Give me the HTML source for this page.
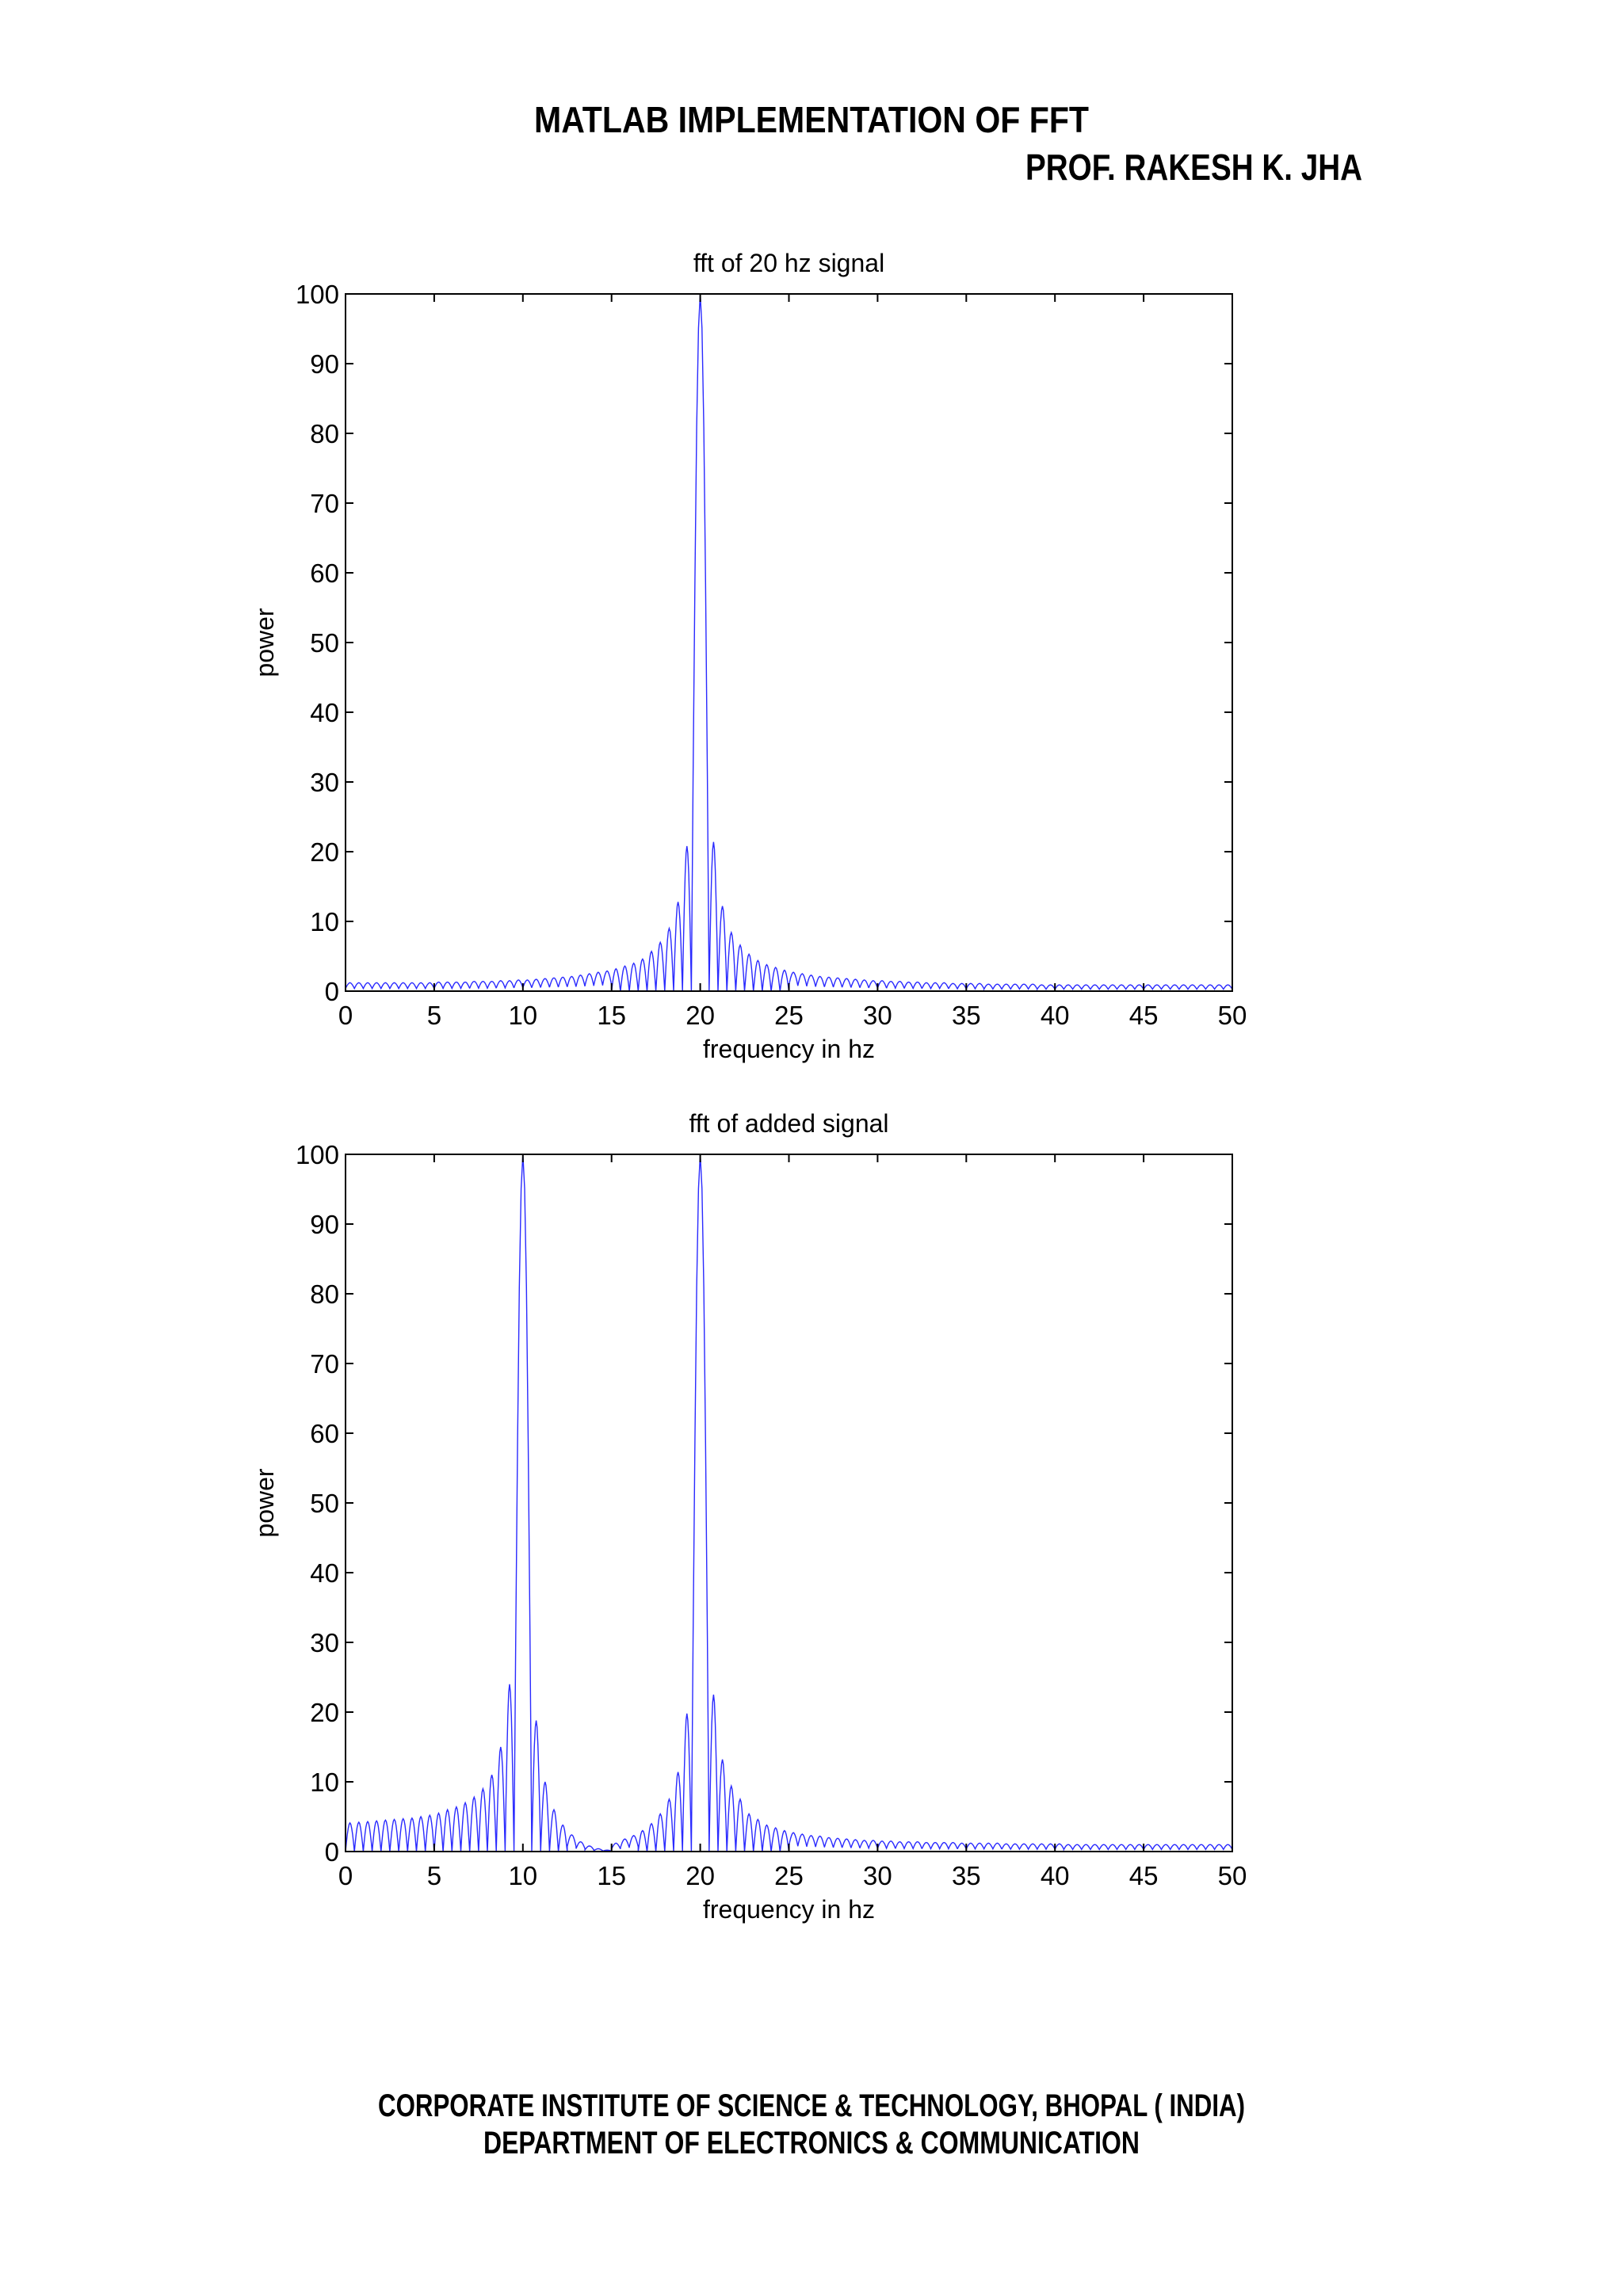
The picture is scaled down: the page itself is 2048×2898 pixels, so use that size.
<!DOCTYPE html>
<html><head><meta charset="utf-8"><style>
html,body{margin:0;padding:0;background:#fff;}
svg{display:block;}
</style></head><body>
<svg id="page" xmlns="http://www.w3.org/2000/svg" width="2048" height="2898" viewBox="0 0 2048 2898">
<rect width="2048" height="2898" fill="#fff"/>
<g font-family="'Liberation Sans Narrow','Liberation Sans',sans-serif" font-weight="bold" fill="#000">
<text x="674" y="167" font-size="46" textLength="700" lengthAdjust="spacingAndGlyphs">MATLAB IMPLEMENTATION OF FFT</text>
<text x="1294" y="227" font-size="46" textLength="425" lengthAdjust="spacingAndGlyphs">PROF. RAKESH K. JHA</text>
<text x="477" y="2671" font-size="40" textLength="1094" lengthAdjust="spacingAndGlyphs">CORPORATE INSTITUTE OF SCIENCE &amp; TECHNOLOGY, BHOPAL ( INDIA)</text>
<text x="610" y="2718" font-size="40" textLength="828" lengthAdjust="spacingAndGlyphs">DEPARTMENT OF ELECTRONICS &amp; COMMUNICATION</text>
</g>
<g id="chart1"></g>
<g id="chart2"></g>
</svg>
<script>
// ---- data ----
const xTicks = [0,5,10,15,20,25,30,35,40,45,50];
const yTicks = [0,10,20,30,40,50,60,70,80,90,100];
const lobeWidth = 0.5;
// chart 1: single 20 Hz peak
const c1Peaks = [20];
const c1PeakHeights = [100];
const c1LeftLobes = [20.8,12.8,9.0,7.0,5.7,4.6,4.0,3.6,3.2,2.9,2.7,2.5,2.3,2.1,2.0,1.9,1.8,1.7,1.6,1.6,1.5,1.5,1.4,1.4,1.4,1.3,1.3,1.3,1.3,1.2,1.2,1.2,1.2,1.2,1.2,1.2,1.2,1.2,1.2,1.2];
const c1RightLobes = [21.4,12.2,8.4,6.6,5.3,4.4,3.8,3.4,3.0,2.7,2.5,2.3,2.1,2.0,1.9,1.8,1.7,1.6,1.5,1.5,1.4,1.4,1.3,1.3,1.2,1.2,1.2,1.1,1.1,1.1,1.1,1.0,1.0,1.0,1.0,1.0,1.0,0.9,0.9,0.9,0.9,0.9,0.9,0.9,0.9,0.9,0.9,0.9,0.9,0.9,0.9,0.9,0.9,0.9,0.9,0.9,0.9,0.9,0.9,0.9];
// chart 2: 10 Hz + 20 Hz
const c2Peaks = [10,20];
const c2PeakHeights = [100,100];
const c2P10Left = [24,15,11,9,7.8,7,6.4,6,5.5,5.2,5,4.8,4.7,4.6,4.5,4.4,4.3,4.2,4.1];
const c2P10Right = [18.8,10,6,3.8,2.4,1.4,0.8,0.4,0.2];
const c2P20Left = [19.8,11.4,7.5,5.4,4,3,2.3,1.8,1.2];
const c2P20Right = [22.5,13.2,9.4,7.5,5.4,4.6,3.8,3.4,3.0,2.7,2.5,2.3,2.2,2.0,1.9,1.8,1.7,1.6,1.6,1.5,1.5,1.4,1.4,1.4,1.3,1.3,1.3,1.3,1.2,1.2,1.2,1.2,1.2,1.1,1.1,1.1,1.1,1.1,1.1,1.1,1.0,1.0,1.0,1.0,1.0,1.0,1.0,1.0,1.0,1.0,1.0,1.0,1.0,1.0,1.0,1.0,1.0,1.0,1.0,1.0];

const NS = 'http://www.w3.org/2000/svg';
function mk(tag, attrs, parent){const e=document.createElementNS(NS,tag);for(const k in attrs)e.setAttribute(k,attrs[k]);parent.appendChild(e);return e;}

function drawChart(g, top, title, lobeSets, peaks, peakHeights){
  const L=436, R=1555, T=top, B=top+880;
  const xs = f => L + (f-0)/(50-0)*(R-L);
  const ys = v => B - v/100*(B-T);
  const t = mk('text',{x:(L+R)/2,y:T-28,'font-size':32,'text-anchor':'middle','font-family':"'Liberation Sans',sans-serif"},g);
  t.textContent = title;
  
  
  let pts=[];
  const segs=[];
  lobeSets.forEach(s=>{
    s.vals.forEach((h,i)=>{
      const a = s.start + s.dir*i*lobeWidth, b = a + s.dir*lobeWidth;
      segs.push([Math.min(a,b),Math.max(a,b),h]);
    });
  });
  peaks.forEach((p,i)=>segs.push([p-0.5,p+0.5,peakHeights[i]]));
  segs.sort((u,v)=>u[0]-v[0]);
  segs.forEach(([a,b,h])=>{
    const fl = h<3 ? 0.3*h : 0;
    for(let k=0;k<=10;k++){
      const f=a+(b-a)*k/10;
      if(f<0||f>50) continue;
      const v=fl+(h-fl)*Math.sin(Math.PI*k/10);
      pts.push(xs(f).toFixed(1)+','+ys(v).toFixed(1));
    }
  });
  const line = mk('polyline',{points:pts.join(' '),fill:'none',stroke:'#2a2aff','stroke-width':1.4},g);
  
  
  const box = mk('rect',{x:L,y:T,width:R-L,height:B-T,fill:'none',stroke:'#000','stroke-width':2},g);
  
  
  xTicks.forEach(v=>{
    const x=xs(v);
    mk('line',{x1:x,y1:B,x2:x,y2:B-10,stroke:'#000','stroke-width':2},g);
    mk('line',{x1:x,y1:T,x2:x,y2:T+10,stroke:'#000','stroke-width':2},g);
    const tl=mk('text',{x:x,y:B+42,'font-size':33,'text-anchor':'middle','font-family':"'Liberation Sans',sans-serif"},g);
    tl.textContent=v;
    
    
  });
  yTicks.forEach(v=>{
    const y=ys(v);
    mk('line',{x1:L,y1:y,x2:L+10,y2:y,stroke:'#000','stroke-width':2},g);
    mk('line',{x1:R,y1:y,x2:R-10,y2:y,stroke:'#000','stroke-width':2},g);
    const tl=mk('text',{x:L-8,y:y+12,'font-size':33,'text-anchor':'end','font-family':"'Liberation Sans',sans-serif"},g);
    tl.textContent=v;
    
    
  });
  const xl=mk('text',{x:(L+R)/2,y:B+84,'font-size':32,'text-anchor':'middle','font-family':"'Liberation Sans',sans-serif"},g);
  xl.textContent='frequency in hz';
  
  
  const yl=mk('text',{x:0,y:0,'font-size':32,'text-anchor':'middle','font-family':"'Liberation Sans',sans-serif",transform:`translate(345,${(T+B)/2}) rotate(-90)`},g);
  yl.textContent='power';
  
  
}

drawChart(document.getElementById('chart1'), 371, 'fft of 20 hz signal',
  [{start:19.5,dir:-1,vals:c1LeftLobes},{start:20.5,dir:1,vals:c1RightLobes}], c1Peaks, c1PeakHeights);
drawChart(document.getElementById('chart2'), 1457, 'fft of added signal',
  [{start:9.5,dir:-1,vals:c2P10Left},{start:10.5,dir:1,vals:c2P10Right},
   {start:19.5,dir:-1,vals:c2P20Left},{start:20.5,dir:1,vals:c2P20Right}], c2Peaks, c2PeakHeights);
</script>
</body></html>
